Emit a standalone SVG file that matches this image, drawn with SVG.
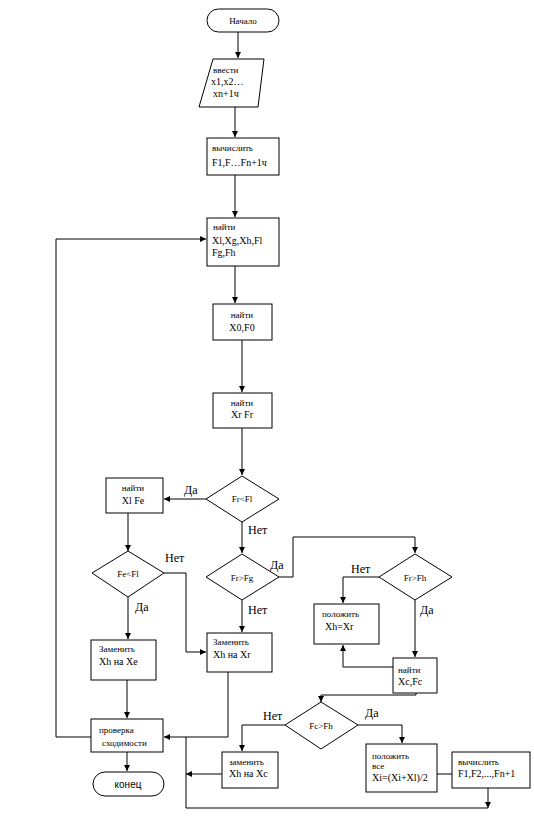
<svg xmlns="http://www.w3.org/2000/svg" width="534" height="836" viewBox="0 0 534 836">
<defs>
<marker id="ah" viewBox="0 0 10 10" refX="10" refY="5" markerWidth="6" markerHeight="6" orient="auto" markerUnits="userSpaceOnUse">
<path d="M0,0 L10,5 L0,10 z" fill="#000"/>
</marker>
<style>
.n{fill:#fff;stroke:#000;stroke-width:1}
.c{fill:none;stroke:#000;stroke-width:1}
.a{marker-end:url(#ah)}
.t{font-family:"Liberation Serif","Times New Roman",serif;font-size:9px;fill:#000}
.f{font-family:"Liberation Serif","Times New Roman",serif;font-size:10px;fill:#000}
.l{font-family:"Liberation Serif","Times New Roman",serif;font-size:12px;fill:#000}
.s{font-family:"Liberation Sans",Arial,sans-serif;font-size:10px;fill:#000}
.m{text-anchor:middle}
</style>
</defs>
<rect width="534" height="836" fill="#fff"/>
<g id="connectors">
<path class="c a" d="M238,32 V58"/>
<path class="c a" d="M235,107 V137"/>
<path class="c a" d="M235,175 V217"/>
<path class="c a" d="M235,266 V303"/>
<path class="c a" d="M242,340 V392"/>
<path class="c a" d="M242,428 V475"/>
<path class="c a" d="M206,499 H164"/>
<path class="c a" d="M242,522 V553"/>
<path class="c a" d="M128,513 V551"/>
<path class="c a" d="M128,597 V639"/>
<path class="c a" d="M164,573 H186 V652 H206"/>
<path class="c a" d="M242,600 V632"/>
<path class="c a" d="M279,577 H293 V537 H415 V553"/>
<path class="c a" d="M379,577 H343 V603"/>
<path class="c a" d="M415,600 V657"/>
<path class="c a" d="M393,667 H343 V645"/>
<path class="c a" d="M416,693 V695 H321 V702"/>
<path class="c a" d="M285,725 H242 V751"/>
<path class="c a" d="M358,725 H402 V743"/>
<path class="c" d="M437,774 H452"/>
<path class="c a" d="M488,788 V808"/>
<path class="c" d="M488,808 H186 V737"/>
<path class="c a" d="M222,774 H186"/>
<path class="c a" d="M228,672 V737 H164"/>
<path class="c a" d="M127,680 V718"/>
<path class="c a" d="M127,752 V771"/>
<path class="c a" d="M91,737 H56 V239 H206"/>
</g>
<g id="start">
<rect class="n" x="207" y="9" width="72" height="23" rx="11.5"/>
<text class="t m" x="243" y="24">Начало</text>
</g>
<g id="input">
<polygon class="n" points="213,59 264,59 258,107 199,107"/>
<text class="t" x="213" y="73">ввести</text>
<text class="f" x="211" y="85">x1,x2…</text>
<text class="f" x="213" y="97">xn+1ч</text>
</g>
<g id="calc1">
<rect class="n" x="207" y="138" width="72" height="37"/>
<text class="t" x="212" y="151">вычислить</text>
<text class="f" x="212" y="166">F1,F…Fn+1ч</text>
</g>
<g id="find1">
<rect class="n" x="207" y="218" width="72" height="48"/>
<text class="t" x="213" y="230">найти</text>
<text class="f" x="212" y="244">Xl,Xg,Xh,Fl</text>
<text class="f" x="212" y="256">Fg,Fh</text>
</g>
<g id="find0">
<rect class="n" x="213" y="304" width="59" height="36"/>
<text class="t m" x="242" y="318">найти</text>
<text class="f m" x="242" y="331">X0,F0</text>
</g>
<g id="findr">
<rect class="n" x="213" y="393" width="59" height="35"/>
<text class="t m" x="242" y="406">найти</text>
<text class="f m" x="242" y="418">Xr Fr</text>
</g>
<g id="d1">
<polygon class="n" points="242,476 279,499 242,522 206,499"/>
<text class="t m" x="242" y="502">Fr&lt;Fl</text>
<text class="l" x="184" y="494">Да</text>
<text class="l" x="248" y="534">Нет</text>
</g>
<g id="finde">
<rect class="n" x="106" y="478" width="57" height="35"/>
<text class="t m" x="133" y="491">найти</text>
<text class="f m" x="133" y="504">Xl Fe</text>
</g>
<g id="d2">
<polygon class="n" points="128,551 164,573 128,597 92,573"/>
<text class="t m" x="128" y="577">Fe&lt;Fl</text>
<text class="l" x="165" y="562">Нет</text>
<text class="l" x="135" y="611">Да</text>
</g>
<g id="d3">
<polygon class="n" points="242,554 279,577 242,600 206,577"/>
<text class="t m" x="242" y="581">Fr&gt;Fg</text>
<text class="l" x="270" y="569">Да</text>
<text class="l" x="248" y="614">Нет</text>
</g>
<g id="d4">
<polygon class="n" points="415,554 452,577 415,600 379,577"/>
<text class="t m" x="415" y="581">Fr&gt;Fh</text>
<text class="l" x="351" y="573">Нет</text>
<text class="l" x="420" y="614">Да</text>
</g>
<g id="put1">
<rect class="n" x="314" y="604" width="65" height="40"/>
<text class="t" x="322" y="617">положить</text>
<text class="f" x="325" y="630">Xh=Xr</text>
</g>
<g id="findc">
<rect class="n" x="393" y="658" width="44" height="35"/>
<text class="t" x="398" y="673">найти</text>
<text class="f" x="398" y="685">Xc,Fc</text>
</g>
<g id="repe">
<rect class="n" x="91" y="640" width="65" height="40"/>
<text class="t" x="99" y="652">Заменить</text>
<text class="f" x="99" y="665">Xh на Xe</text>
</g>
<g id="repr">
<rect class="n" x="207" y="633" width="65" height="39"/>
<text class="t" x="213" y="645">Заменить</text>
<text class="f" x="213" y="658">Xh на Xr</text>
</g>
<g id="d5">
<polygon class="n" points="321,702 358,725 321,749 285,725"/>
<text class="t m" x="321" y="729">Fc&gt;Fh</text>
<text class="l" x="263" y="720">Нет</text>
<text class="l" x="365" y="717">Да</text>
</g>
<g id="check">
<rect class="n" x="91" y="719" width="72" height="33"/>
<text class="t" x="99" y="733">проверка</text>
<text class="t" x="102" y="746">сходимости</text>
</g>
<g id="repc">
<rect class="n" x="222" y="752" width="56" height="36"/>
<text class="t" x="229" y="765">заменить</text>
<text class="f" x="229" y="777">Xh на Xc</text>
</g>
<g id="put2">
<rect class="n" x="366" y="744" width="71" height="48"/>
<text class="t" x="372" y="759">положить</text>
<text class="t" x="372" y="769">все</text>
<text class="f" x="372" y="781">Xi=(Xi+Xl)/2</text>
</g>
<g id="calc2">
<rect class="n" x="452" y="752" width="78" height="36"/>
<text class="t" x="458" y="765">вычислить</text>
<text class="f" x="458" y="777">F1,F2,...,Fn+1</text>
</g>
<g id="end">
<rect class="n" x="93" y="772" width="71" height="24" rx="12"/>
<text class="s m" x="128" y="788">конец</text>
</g>
</svg>
